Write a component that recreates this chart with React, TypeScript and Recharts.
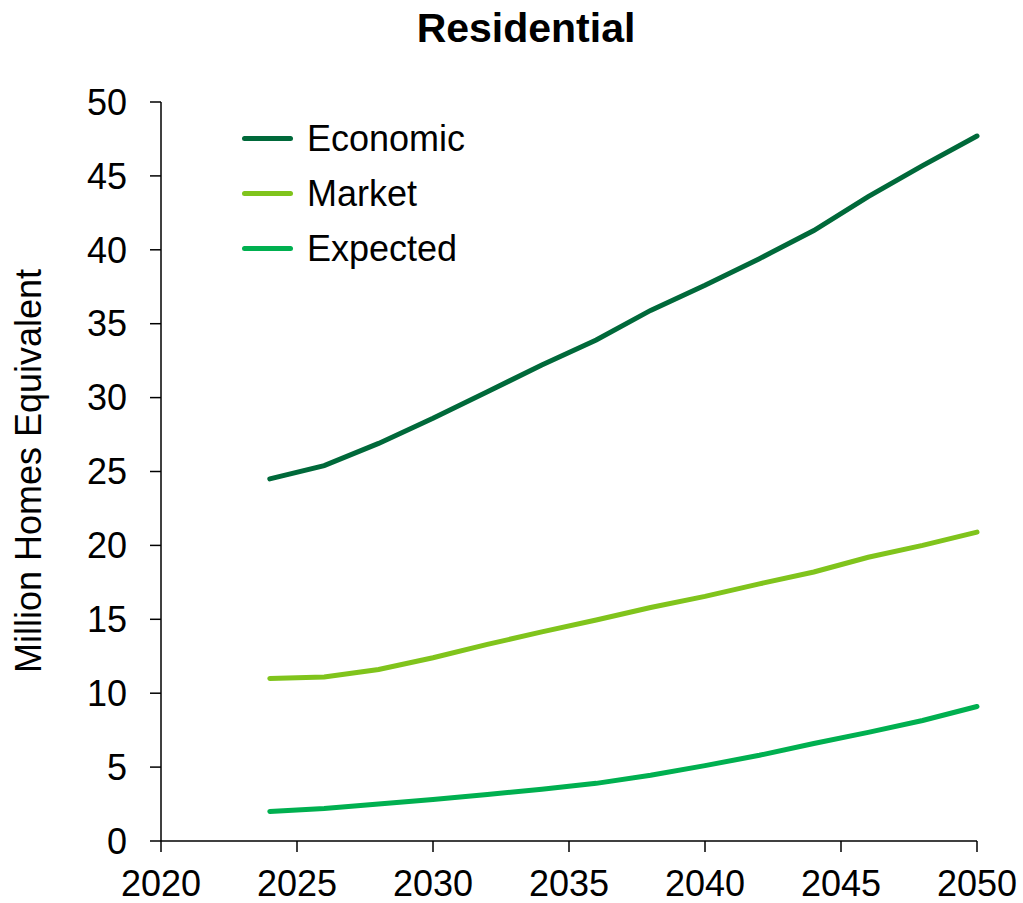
import { LineChart, Line, XAxis, YAxis } from 'recharts';

const years = [2024, 2026, 2028, 2030, 2032, 2034, 2036, 2038, 2040, 2042, 2044, 2046, 2048, 2050];
const economic = [24.5, 25.4, 26.9, 28.6, 30.4, 32.2, 33.9, 35.9, 37.6, 39.4, 41.3, 43.6, 45.7, 47.7];
const market = [11.0, 11.1, 11.6, 12.4, 13.3, 14.15, 14.95, 15.8, 16.55, 17.4, 18.2, 19.2, 20.0, 20.9];
const expected = [2.0, 2.2, 2.5, 2.8, 3.15, 3.5, 3.9, 4.45, 5.1, 5.8, 6.6, 7.35, 8.15, 9.1];

const xTicks = [2020, 2025, 2030, 2035, 2040, 2045, 2050];
const yTicks = [0, 5, 10, 15, 20, 25, 30, 35, 40, 45, 50];

const series = [
  { key: 'Economic', color: '#00693a' },
  { key: 'Market', color: '#80c41c' },
  { key: 'Expected', color: '#00b050' },
];

const data = years.map((year, i) => ({
  year,
  Economic: economic[i],
  Market: market[i],
  Expected: expected[i],
}));

const FONT = '"Liberation Sans", Arial, sans-serif';

const YLabel = () => (
  <text
    x={41}
    y={471}
    transform="rotate(-90 41 471)"
    textAnchor="middle"
    fontFamily={FONT}
    fontSize={36}
    fill="#000"
  >
    Million Homes Equivalent
  </text>
);

export default function App() {
  return (
    <div style={{ position: 'absolute', left: 0, top: 0, width: 1023, height: 903, background: '#fff' }}>
      <div
        style={{
          position: 'absolute',
          left: 326,
          top: 8,
          width: 400,
          textAlign: 'center',
          fontFamily: FONT,
          fontWeight: 'bold',
          fontSize: 41,
          lineHeight: 1,
          color: '#000',
        }}
      >
        Residential
      </div>
      <LineChart width={1023} height={903} data={data} margin={{ top: 102, right: 46, left: 0, bottom: 0 }}>
        <XAxis
          dataKey="year"
          type="number"
          domain={[2020, 2050]}
          ticks={xTicks}
          interval={0}
          height={62}
          tickSize={11}
          tickMargin={18}
          axisLine={{ stroke: '#000', strokeWidth: 1.5 }}
          tickLine={{ stroke: '#000', strokeWidth: 1.5 }}
          tick={{ fill: '#000', fontSize: 36, fontFamily: FONT }}
        />
        <YAxis
          type="number"
          domain={[0, 50]}
          ticks={yTicks}
          interval={0}
          width={161}
          tickSize={11}
          tickMargin={23}
          axisLine={{ stroke: '#000', strokeWidth: 1.5 }}
          tickLine={{ stroke: '#000', strokeWidth: 1.5 }}
          tick={{ fill: '#000', fontSize: 36, fontFamily: FONT }}
          label={<YLabel />}
        />
        {series.map((s) => (
          <Line
            key={s.key}
            type="linear"
            dataKey={s.key}
            stroke={s.color}
            strokeWidth={5}
            dot={false}
            strokeLinecap="round"
            isAnimationActive={false}
          />
        ))}
      </LineChart>
      <div style={{ position: 'absolute', left: 242, top: 111, fontFamily: FONT, fontSize: 36, color: '#000' }}>
        {series.map((s) => (
          <div key={s.key} style={{ display: 'flex', alignItems: 'center', height: 55 }}>
            <div style={{ width: 51, height: 5, borderRadius: 3, background: s.color, marginRight: 14 }} />
            <span style={{ lineHeight: '55px' }}>{s.key}</span>
          </div>
        ))}
      </div>
    </div>
  );
}
